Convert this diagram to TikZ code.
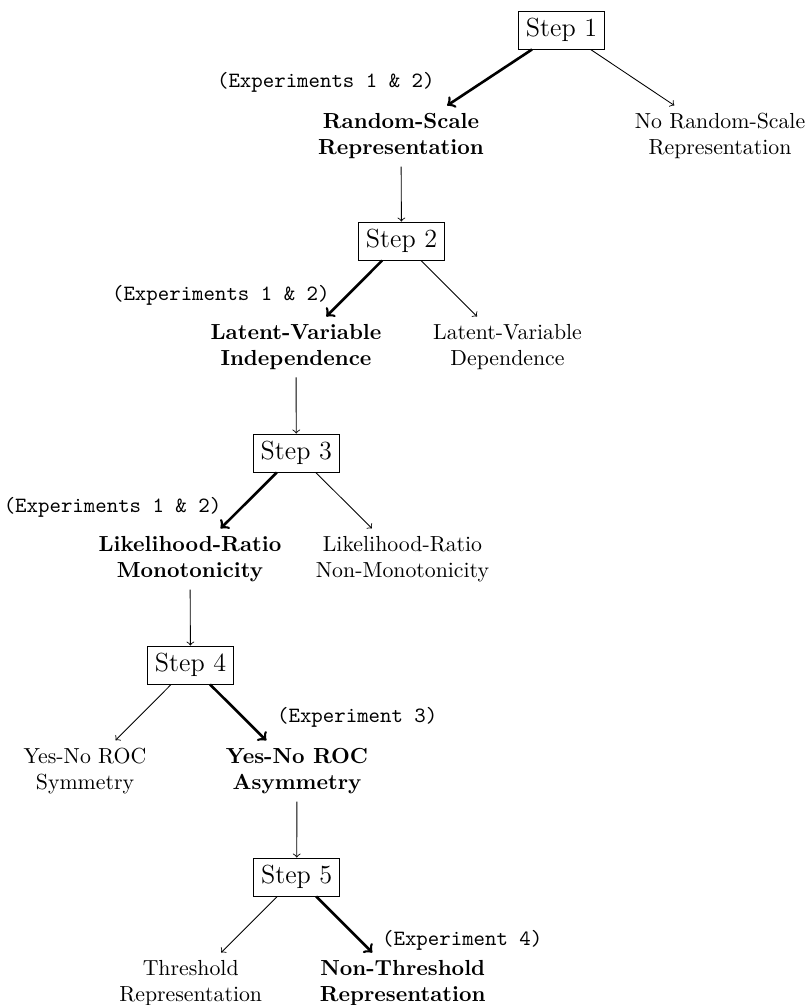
\documentclass[tikz,border=0pt]{standalone}
\begin{document}
\begin{tikzpicture}[x=0.4587pt,y=-0.4587pt,
  stepbox/.style={draw,thin,font=\large,inner sep=0.3333em},
  leaf/.style={align=center,font=\normalsize},
  chosen/.style={align=center,font=\normalsize\bfseries},
  expl/.style={font=\ttfamily,inner sep=0pt},
  mainedge/.style={->,very thick},
  altedge/.style={->,thin}]
\useasboundingbox (0,0) rectangle (807,1005);

% Step nodes
\node[stepbox] (s1) at (561.5,30) {Step 1};
\node[stepbox] (s2) at (401.5,241) {Step 2};
\node[stepbox] (s3) at (296.3,453) {Step 3};
\node[stepbox] (s4) at (190.5,665) {Step 4};
\node[stepbox] (s5) at (296.7,877) {Step 5};

% Outcomes
\node[chosen] (rs) at (401,136) {Random-Scale\\Representation};
\node[leaf] (nrs) at (720,136) {No Random-Scale\\Representation};
\node[chosen] (lvi) at (296,347) {Latent-Variable\\Independence};
\node[leaf] (lvd) at (507.5,347) {Latent-Variable\\Dependence};
\node[chosen] (lrm) at (190,559) {Likelihood-Ratio\\Monotonicity};
\node[leaf] (lrn) at (402.5,559) {Likelihood-Ratio\\Non-Monotonicity};
\node[leaf] (sym) at (85,771) {Yes-No ROC\\Symmetry};
\node[chosen] (asym) at (297,771) {Yes-No ROC\\Asymmetry};
\node[leaf] (thr) at (190.7,983) {Threshold\\Representation};
\node[chosen] (nthr) at (402.7,983) {Non-Threshold\\Representation};

% Experiment labels
\node[expl,anchor=east] (e1) at (435,82) {(Experiments 1 \& 2)};
\node[expl,anchor=east] (e2) at (330,295) {(Experiments 1 \& 2)};
\node[expl,anchor=east] (e3) at (221.7,507) {(Experiments 1 \& 2)};
\node[expl,anchor=west] (e4) at (276.7,717) {(Experiment 3)};
\node[expl,anchor=west] (e5) at (381.7,940) {(Experiment 4)};

% Edges
\draw[mainedge] (s1) -- (rs);
\draw[altedge] (s1) -- (nrs);
\draw[altedge] (rs) -- (s2);
\draw[mainedge] (s2) -- (lvi);
\draw[altedge] (s2) -- (lvd);
\draw[altedge] (lvi) -- (s3);
\draw[mainedge] (s3) -- (lrm);
\draw[altedge] (s3) -- (lrn);
\draw[altedge] (lrm) -- (s4);
\draw[altedge] (s4) -- (sym);
\draw[mainedge] (s4) -- (asym);
\draw[altedge] (asym) -- (s5);
\draw[altedge] (s5) -- (thr);
\draw[mainedge] (s5) -- (nthr);
\end{tikzpicture}
\end{document}
